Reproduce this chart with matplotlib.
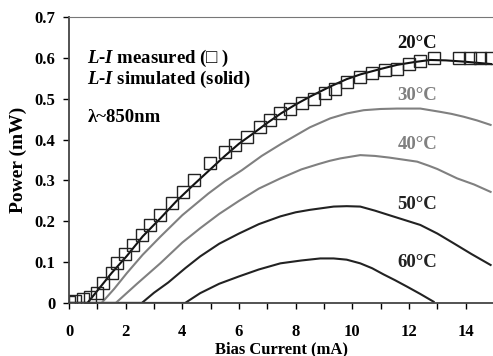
"""L-I curves of a VCSEL at different temperatures"""

import matplotlib.pyplot as plt

# measured L-I at 20 C (squares)
meas_current = [0.0, 0.2, 0.5, 0.74, 0.98, 1.21, 1.51, 1.68, 1.98, 2.27, 2.57, 2.86,
                3.22, 3.63, 4.04, 4.42, 4.98, 5.51, 5.87, 6.28, 6.75, 7.1, 7.46, 7.81,
                8.22, 8.63, 9.05, 9.4, 9.81, 10.28, 10.7, 11.17, 11.58, 11.99, 12.4,
                12.87, 13.76, 14.17, 14.52, 14.88]
meas_power = [0.003, 0.004, 0.01, 0.015, 0.025, 0.048, 0.074, 0.097, 0.12, 0.142, 0.166,
              0.19, 0.215, 0.244, 0.272, 0.30, 0.342, 0.37, 0.387, 0.407, 0.431, 0.448,
              0.464, 0.476, 0.489, 0.50, 0.513, 0.525, 0.542, 0.554, 0.562, 0.57, 0.574,
              0.585, 0.593, 0.599, 0.599, 0.599, 0.599, 0.599]

# simulated curves (current in mA, power in mW)
sim_20_i = [0, 0.65, 1.0, 1.5, 2.04, 2.6, 3.22, 3.8, 4.39, 5.0, 5.5, 6.0, 6.5, 7.0, 7.5, 8.0,
            8.5, 9.22, 9.8, 10.3, 11.0, 11.58, 12.2, 12.75, 13.3, 13.93, 14.9]
sim_20_p = [0, 0, 0.03, 0.073, 0.115, 0.163, 0.207, 0.25, 0.289, 0.328, 0.36, 0.39, 0.415,
            0.441, 0.465, 0.486, 0.505, 0.53, 0.548, 0.56, 0.573, 0.583, 0.59, 0.595, 0.594,
            0.591, 0.585]
sim_30_i = [0, 1.15, 1.6, 2.04, 2.6, 3.22, 4.0, 4.92, 5.5, 6.1, 6.8, 7.5, 8.0, 8.5, 9.22,
            9.8, 10.4, 11.0, 11.58, 12.4, 13.1, 13.5, 13.93, 14.4, 14.88]
sim_30_p = [0, 0, 0.035, 0.073, 0.118, 0.162, 0.215, 0.268, 0.298, 0.325, 0.36, 0.39, 0.41,
            0.43, 0.452, 0.464, 0.472, 0.475, 0.476, 0.476, 0.468, 0.463, 0.456, 0.447, 0.436]
sim_40_i = [0, 1.65, 2.4, 3.22, 4.0, 4.63, 5.3, 6.0, 6.7, 7.46, 8.2, 8.8, 9.2, 9.58, 10.28,
            10.8, 11.3, 12.29, 12.7, 13.0, 13.7, 14.3, 14.88]
sim_40_p = [0, 0, 0.047, 0.097, 0.148, 0.183, 0.218, 0.25, 0.28, 0.305, 0.327, 0.34, 0.348,
            0.354, 0.362, 0.36, 0.356, 0.346, 0.336, 0.328, 0.305, 0.29, 0.272]
sim_50_i = [0, 2.57, 3.0, 3.5, 4.1, 4.63, 5.3, 6.0, 6.7, 7.46, 8.0, 8.5, 9.34, 9.8, 10.28,
            10.8, 11.3, 12.4, 13.0, 13.58, 14.2, 14.88]
sim_50_p = [0, 0, 0.025, 0.05, 0.085, 0.114, 0.145, 0.17, 0.193, 0.212, 0.222, 0.228, 0.236,
            0.237, 0.236, 0.226, 0.215, 0.191, 0.17, 0.146, 0.12, 0.093]
sim_60_i = [0, 4.1, 4.63, 5.3, 6.0, 6.7, 7.46, 8.2, 8.87, 9.34, 9.8, 10.28, 10.7, 11.1,
            11.5, 11.93, 12.4, 12.87]
sim_60_p = [0, 0, 0.024, 0.047, 0.065, 0.082, 0.097, 0.104, 0.109, 0.109, 0.106, 0.097,
            0.085, 0.07, 0.056, 0.04, 0.022, 0.003]

temp_labels = ['20°C', '30°C', '40°C', '50°C', '60°C']
label_y = [0.636, 0.507, 0.387, 0.242, 0.098]
curve_colors = ['#111111', '#808080', '#808080', '#222222', '#222222']

plt.rcParams['font.family'] = ['Liberation Serif', 'DejaVu Serif']
plt.rcParams['font.weight'] = 'bold'
plt.rcParams['mathtext.fontset'] = 'custom'
plt.rcParams['mathtext.rm'] = 'Liberation Serif:bold'
plt.rcParams['mathtext.bf'] = 'Liberation Serif:bold'
plt.rcParams['mathtext.bfit'] = 'Liberation Serif:italic:bold'
plt.rcParams['mathtext.it'] = 'Liberation Serif:italic:bold'

fig = plt.figure(figsize=(4.93, 3.56), dpi=100)
ax = fig.add_axes([0.140, 0.149, 0.862, 0.803])

curves = [(sim_20_i, sim_20_p), (sim_30_i, sim_30_p), (sim_40_i, sim_40_p),
          (sim_50_i, sim_50_p), (sim_60_i, sim_60_p)]
# draw from the hottest first so 20 C sits on top
for (xs, ys), c in reversed(list(zip(curves, curve_colors))):
    ax.plot(xs, ys, color=c, lw=1.5)

ax.plot(meas_current, meas_power, ls='none', marker='s', ms=9, mfc='none',
        mec='#222222', mew=1.0)

for txt, y, c in zip(temp_labels, label_y, curve_colors):
    ax.text(12.3, y, txt, ha='center', va='center', fontsize=13.5, fontweight='bold', color=c)

# two-line note, kept in one text so the tight line spacing stays
ax.text(0.65, 0.573,
        '$\\mathit{L}$-$\\mathit{I}$ measured (□ )\n$\\mathit{L}$-$\\mathit{I}$ simulated (solid)',
        fontsize=13.5, fontweight='bold', va='center', linespacing=0.95,
        family=['Liberation Serif', 'DejaVu Sans'])
ax.text(0.65, 0.453, 'λ~850nm', fontsize=13.5, fontweight='bold', va='center')

ax.set_xlim(0, 15)
ax.set_ylim(0, 0.7)
ax.set_xticks(range(0, 15, 2))
ax.set_xticks(range(1, 16, 2), minor=True)
ax.set_yticks([0, 0.1, 0.2, 0.3, 0.4, 0.5, 0.6, 0.7])
ax.set_yticklabels(['0', '0.1', '0.2', '0.3', '0.4', '0.5', '0.6', '0.7'])
ax.tick_params(axis='both', which='both', direction='out', length=4, width=1,
               labelsize=12)
ax.tick_params(axis='x', pad=11)
ax.tick_params(axis='y', pad=6)
for lab in ax.get_xticklabels() + ax.get_yticklabels():
    lab.set_fontweight('bold')

ax.set_xlabel('Bias Current (mA)', fontsize=12, fontweight='bold', labelpad=1)
ax.set_ylabel('Power (mW)', fontsize=14, fontweight='bold', labelpad=5)

ax.spines['right'].set_visible(False)
ax.spines['top'].set_color('#777777')
ax.spines['left'].set_color('#444444')
ax.spines['bottom'].set_color('#444444')
ax.spines['left'].set_linewidth(1.3)
ax.spines['bottom'].set_linewidth(1.3)

fig.savefig('out.png', dpi=100)
